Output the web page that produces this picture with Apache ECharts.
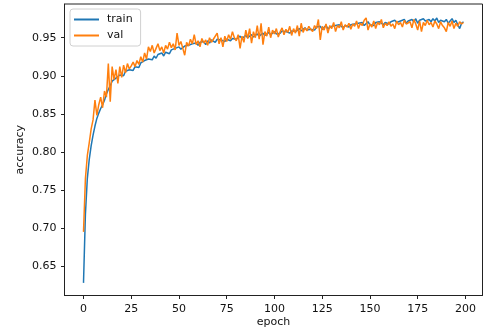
<!DOCTYPE html>
<html>
<head>
<meta charset="utf-8">
<script src="https://cdn.jsdelivr.net/npm/echarts@6/dist/echarts.min.js"></script>
<style>html,body{margin:0;padding:0;background:#fff}#c{width:483px;height:333px}</style>
</head>
<body>
<div id="c"></div>
<script>
const seriesNames = ['train', 'val'];
const xTicks = [0, 25, 50, 75, 100, 125, 150, 175, 200];
const yTicks = [0.65, 0.70, 0.75, 0.80, 0.85, 0.90, 0.95];
const train = [
0.628,0.718,0.765,0.790,0.808,0.822,0.834,0.844,0.851,0.857,
0.862,0.868,0.876,0.882,0.887,0.893,0.891,0.897,0.899,0.901,
0.903,0.900,0.906,0.904,0.908,0.910,0.907,0.912,0.914,0.911,
0.917,0.915,0.920,0.918,0.922,0.924,0.921,0.926,0.923,0.928,
0.927,0.930,0.926,0.931,0.933,0.929,0.934,0.932,0.936,0.934,
0.938,0.935,0.933,0.939,0.937,0.940,0.938,0.942,0.941,0.943,
0.940,0.944,0.942,0.945,0.941,0.946,0.943,0.947,0.945,0.944,
0.948,0.946,0.947,0.949,0.945,0.948,0.950,0.946,0.949,0.951,
0.948,0.950,0.952,0.949,0.951,0.953,0.950,0.952,0.954,0.951,
0.953,0.955,0.952,0.954,0.956,0.953,0.955,0.957,0.954,0.956,
0.958,0.955,0.957,0.956,0.959,0.957,0.958,0.960,0.956,0.959,
0.961,0.958,0.960,0.962,0.959,0.961,0.963,0.960,0.962,0.961,
0.963,0.960,0.964,0.962,0.965,0.961,0.963,0.966,0.962,0.964,
0.965,0.963,0.966,0.964,0.967,0.965,0.963,0.966,0.968,0.964,
0.967,0.965,0.968,0.966,0.969,0.967,0.970,0.966,0.968,0.971,
0.967,0.969,0.966,0.970,0.968,0.971,0.969,0.967,0.970,0.972,
0.968,0.971,0.969,0.973,0.970,0.968,0.972,0.970,0.974,0.969,
0.972,0.970,0.974,0.971,0.975,0.969,0.973,0.971,0.975,0.972,
0.970,0.974,0.971,0.975,0.972,0.976,0.970,0.973,0.975,0.971,
0.974,0.969,0.972,0.975,0.970,0.973,0.967,0.962,0.969,0.971
];
const val = [
0.695,0.765,0.795,0.812,0.830,0.842,0.868,0.848,0.862,0.872,
0.858,0.880,0.872,0.916,0.866,0.912,0.895,0.908,0.890,0.912,
0.898,0.914,0.904,0.916,0.909,0.913,0.918,0.912,0.920,0.915,
0.925,0.918,0.930,0.922,0.938,0.932,0.940,0.930,0.936,0.942,
0.933,0.938,0.930,0.940,0.935,0.944,0.937,0.942,0.934,0.956,
0.940,0.945,0.936,0.927,0.944,0.939,0.948,0.942,0.954,0.941,
0.946,0.938,0.949,0.943,0.947,0.940,0.950,0.944,0.948,0.946,
0.956,0.942,0.950,0.938,0.952,0.945,0.954,0.948,0.958,0.950,
0.946,0.954,0.936,0.952,0.944,0.960,0.949,0.962,0.943,0.958,
0.950,0.966,0.948,0.969,0.941,0.958,0.952,0.964,0.950,0.960,
0.955,0.962,0.951,0.958,0.963,0.954,0.961,0.957,0.965,0.953,
0.962,0.956,0.966,0.952,0.969,0.957,0.963,0.959,0.965,0.961,
0.958,0.966,0.962,0.974,0.947,0.965,0.960,0.968,0.956,0.966,
0.962,0.970,0.958,0.966,0.963,0.971,0.960,0.967,0.964,0.969,
0.961,0.968,0.965,0.972,0.962,0.969,0.966,0.973,0.976,0.960,
0.968,0.964,0.972,0.962,0.970,0.967,0.974,0.963,0.969,0.966,
0.971,0.965,0.968,0.962,0.972,0.967,0.970,0.964,0.973,0.968,
0.966,0.971,0.963,0.974,0.968,0.960,0.972,0.958,0.970,0.966,
0.973,0.967,0.970,0.964,0.972,0.968,0.962,0.971,0.966,0.963,
0.958,0.970,0.965,0.972,0.962,0.969,0.965,0.971,0.968,0.970
];
const colors = ['#1f77b4', '#ff7f0e'];

const font = 'DejaVu Sans';
const chart = echarts.init(document.getElementById('c'), null, {renderer: 'canvas'});
const toPairs = arr => arr.map((v, i) => [i, v]);
chart.setOption({
  animation: false,
  backgroundColor: '#fff',
  grid: {left: 64.5, right: 0.5, top: 4, bottom: 37.5, show: true, borderColor: '#222', borderWidth: 1, backgroundColor: 'transparent'},
  legend: {
    left: 70, top: 9, orient: 'vertical',
    backgroundColor: 'rgba(255,255,255,0.8)', borderColor: '#d0d0d0', borderWidth: 1, borderRadius: 3,
    padding: [5, 8, 5, 4], itemWidth: 25, itemHeight: 2, itemGap: 5, icon: 'rect',
    textStyle: {fontFamily: font, fontSize: 11, color: '#111', padding: [0, 0, 0, 3]},
    data: seriesNames
  },
  xAxis: {
    type: 'value', min: -9.95, max: 208.95,
    name: 'epoch', nameLocation: 'middle', nameGap: 21, nameMoveOverlap: false,
    nameTextStyle: {fontFamily: font, fontSize: 11, color: '#111'},
    axisLine: {show: true, onZero: false, lineStyle: {color: '#222', width: 1}},
    splitLine: {show: false},
    axisTick: {show: true, length: 3.5, inside: false, customValues: xTicks, lineStyle: {color: '#222'}},
    axisLabel: {customValues: xTicks, margin: 8, fontFamily: font, fontSize: 11, color: '#111'}
  },
  yAxis: {
    type: 'value', min: 0.6114, max: 0.9943,
    name: 'accuracy', nameLocation: 'middle', nameGap: 39, nameMoveOverlap: false,
    nameTextStyle: {fontFamily: font, fontSize: 11, color: '#111'},
    axisLine: {show: true, onZero: false, lineStyle: {color: '#222', width: 1}},
    splitLine: {show: false},
    axisTick: {show: true, length: 3.5, customValues: yTicks, lineStyle: {color: '#222'}},
    axisLabel: {customValues: yTicks, margin: 8, fontFamily: font, fontSize: 11, color: '#111',
      formatter: v => v.toFixed(2)}
  },
  series: [
    {name: seriesNames[0], type: 'line', data: toPairs(train), showSymbol: false, symbol: 'none',
     lineStyle: {width: 1.5, color: colors[0]}, itemStyle: {color: colors[0]}},
    {name: seriesNames[1], type: 'line', data: toPairs(val), showSymbol: false, symbol: 'none',
     lineStyle: {width: 1.5, color: colors[1]}, itemStyle: {color: colors[1]}}
  ]
});
</script>
</body>
</html>
